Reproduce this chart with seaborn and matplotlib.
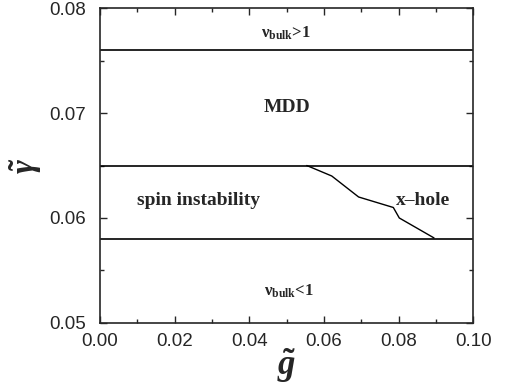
import matplotlib
matplotlib.use("Agg")
import matplotlib.pyplot as plt
import seaborn as sns
import pandas as pd
from matplotlib.ticker import MultipleLocator, FormatStrFormatter

# phase boundaries (g~, gamma~)
boundary_levels = [0.076, 0.065, 0.058]
xhole_g = [0.0554, 0.0621, 0.0693, 0.0786, 0.0802, 0.0895]
xhole_gamma = [0.0650, 0.0640, 0.0620, 0.0610, 0.0600, 0.0581]

region_labels = [r"ν$_{\mathregular{bulk}}$>1", "MDD", "spin instability", "x\u2013hole",
                 r"ν$_{\mathregular{bulk}}$<1"]
region_g = [0.0497, 0.050, 0.0263, 0.0865, 0.0505]
region_gamma = [0.0776, 0.0705, 0.0617, 0.0617, 0.0530]

sns.set_style("ticks")
plt.rcParams["font.family"] = ["Liberation Sans", "DejaVu Sans"]
plt.rcParams["mathtext.fontset"] = "custom"
plt.rcParams["mathtext.rm"] = "Liberation Serif:bold"
plt.rcParams["mathtext.it"] = "Liberation Serif:bold:italic"
plt.rcParams["mathtext.bf"] = "Liberation Serif:bold"

fig = plt.figure(figsize=(5.05, 3.84), dpi=100)
ax = fig.add_axes([0.198, 0.159, 0.739, 0.820])

for lvl in boundary_levels:
    df = pd.DataFrame({"g": [0.0, 0.1], "gamma": [lvl, lvl]})
    sns.lineplot(data=df, x="g", y="gamma", color="black", lw=1.2, ax=ax)

curve = pd.DataFrame({"g": xhole_g, "gamma": xhole_gamma})
sns.lineplot(data=curve, x="g", y="gamma", color="black", lw=1.0, sort=False, ax=ax)

for lab, gx, gy in zip(region_labels, region_g, region_gamma):
    size = 12 if "bulk" in lab else 14
    ax.text(gx, gy, lab, ha="center", va="center", fontsize=size,
            family="Liberation Serif", weight="bold")

ax.set_xlim(0.0, 0.1)
ax.set_ylim(0.05, 0.08)
ax.xaxis.set_major_locator(MultipleLocator(0.02))
ax.xaxis.set_minor_locator(MultipleLocator(0.01))
ax.yaxis.set_major_locator(MultipleLocator(0.01))
ax.yaxis.set_minor_locator(MultipleLocator(0.005))
ax.xaxis.set_major_formatter(FormatStrFormatter("%.2f"))
ax.yaxis.set_major_formatter(FormatStrFormatter("%.2f"))
ax.tick_params(which="both", direction="in", top=True, right=True, labelsize=13.5)
ax.tick_params(axis="x", pad=7)
ax.tick_params(axis="y", pad=10)
ax.tick_params(which="major", length=5, width=1)
ax.tick_params(which="minor", length=3, width=1)
for sp in ax.spines.values():
    sp.set_linewidth(1.2)

ax.set_xlabel(r"$\tilde{g}$", fontsize=25, labelpad=-2)
ax.set_ylabel(r"$\tilde{\gamma}$", fontsize=24, labelpad=4)

fig.savefig("out.png", dpi=100)
